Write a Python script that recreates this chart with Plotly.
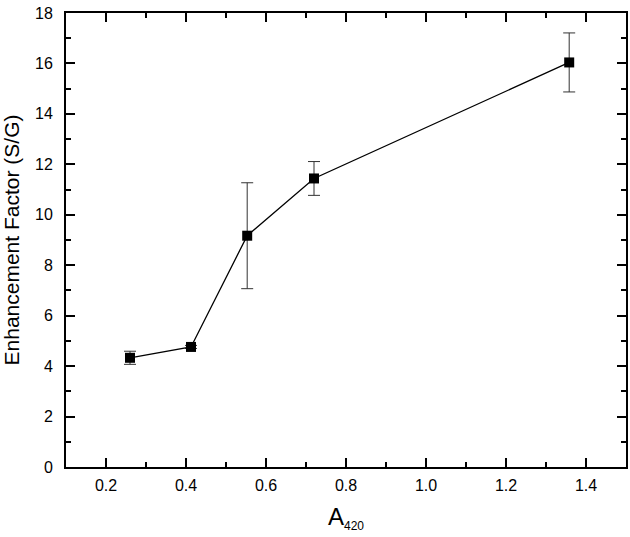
import plotly.graph_objects as go

# values
a420 = [0.26, 0.4125, 0.553, 0.72, 1.358]
enhancement = [4.33, 4.76, 9.17, 11.44, 16.04]
err = [0.26, 0.06, 2.1, 0.67, 1.17]

x_ticks = [0.2, 0.4, 0.6, 0.8, 1.0, 1.2, 1.4]
x_labels = ["0.2", "0.4", "0.6", "0.8", "1.0", "1.2", "1.4"]
y_ticks = [0, 2, 4, 6, 8, 10, 12, 14, 16, 18]

FONT = "Liberation Sans, Arial, sans-serif"

fig = go.Figure()
fig.add_trace(go.Scatter(
    x=a420, y=enhancement,
    mode="lines+markers",
    line=dict(color="black", width=1.3),
    marker=dict(symbol="square", size=10, color="black"),
    error_y=dict(type="data", array=err, visible=True, color="#333333", thickness=1, width=6),
    showlegend=False,
))

axis_font = dict(family=FONT, size=16, color="black")

fig.update_xaxes(
    range=[0.1, 1.5], tickvals=x_ticks, ticktext=x_labels,
    ticks="inside", ticklen=9, tickwidth=2, tickcolor="black",
    minor=dict(ticks="inside", ticklen=5, tickwidth=2, tickcolor="black", dtick=0.1, tick0=0.1),
    showline=True, linecolor="black", linewidth=2, mirror="allticks",
    showgrid=False, zeroline=False, tickfont=axis_font, ticklabelstandoff=3,
    automargin=False,
    title=dict(text="A<sub><span style='font-size:12px'>420</span></sub>",
               font=dict(family=FONT, size=24, color="black")),
)
fig.update_yaxes(
    range=[0, 18], tickvals=y_ticks,
    ticks="inside", ticklen=9, tickwidth=2, tickcolor="black",
    minor=dict(ticks="inside", ticklen=5, tickwidth=2, tickcolor="black", dtick=1, tick0=0),
    showline=True, linecolor="black", linewidth=2, mirror="allticks",
    showgrid=False, zeroline=False, tickfont=axis_font, ticklabelstandoff=8,
    automargin=False,
    title=dict(text="Enhancement Factor (S/G)", font=dict(family=FONT, size=21, color="black")),
)
fig.update_layout(
    width=630, height=537,
    margin=dict(l=66, r=4, t=13, b=70),
    plot_bgcolor="white", paper_bgcolor="white",
)
# the page body has a default 8px margin, drop it so the figure sits at 0,0
fig.write_html("out.html", config={"displayModeBar": False},
               post_script="document.body.style.margin='0px';")
